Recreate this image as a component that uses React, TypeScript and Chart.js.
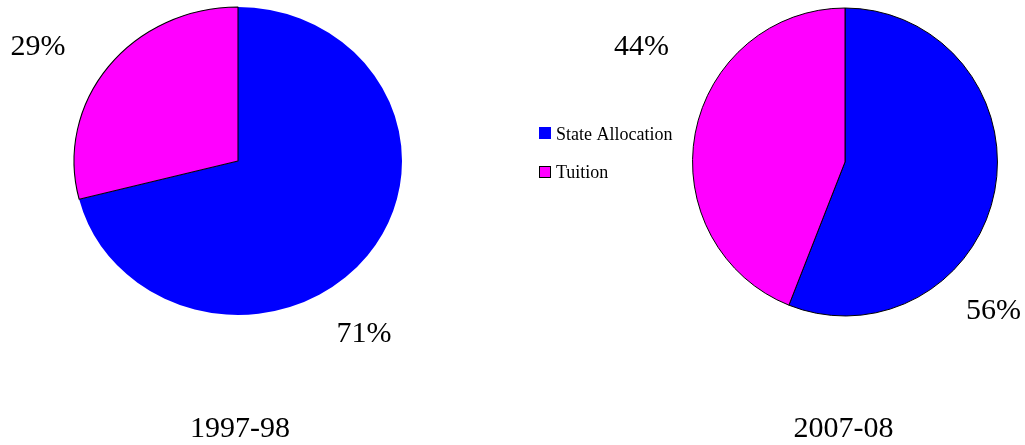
import React, { useEffect, useRef } from 'react';
import { Chart, registerables } from 'chart.js';

Chart.register(...registerables);

// ---- data ----
const categories = ['State Allocation', 'Tuition'];
const yearLabels = ['1997-98', '2007-08'];
const share1997 = [71, 29];
const share2007 = [56, 44];

// ---- style / layout ----
const sliceColors = ['#0000FF', '#FF00FF'];
const W = 1025;
const H = 445;
const FONT = '"Liberation Serif", "Times New Roman", Times, serif';

const ellipsePlugin = {
  id: 'ellipse',
  beforeDatasetsDraw(chart: any, _args: any, opts: any) {
    const arc = chart.getDatasetMeta(0).data[0];
    const ctx = chart.ctx;
    ctx.save();
    ctx.translate(arc.x, arc.y);
    ctx.scale(opts.sx ?? 1, opts.sy ?? 1);
    ctx.translate(-arc.x, -arc.y);
  },
  afterDatasetsDraw(chart: any) {
    chart.ctx.restore();
  },
};

const overlayPlugin = {
  id: 'overlay',
  afterDraw(chart: any, _args: any, opts: any) {
    const ctx = chart.ctx;
    ctx.save();
    ctx.fillStyle = '#000';
    ctx.textBaseline = 'alphabetic';
    ctx.textAlign = 'center';
    ctx.font = `30px ${FONT}`;
    const values: number[] = chart.data.datasets[0].data;
    values.forEach((v, i) => {
      const p = opts.pctPos[i];
      ctx.fillText(`${v}%`, p[0], p[1]);
    });
    ctx.fillText(opts.year, opts.yearPos[0], opts.yearPos[1]);
    if (opts.legend) {
      const lg = opts.legend;
      ctx.textAlign = 'left';
      ctx.font = `18px ${FONT}`;
      (chart.data.labels as string[]).forEach((lab, i) => {
        const by = lg.boxY[i];
        ctx.fillStyle = sliceColors[i];
        ctx.fillRect(lg.boxX, by, lg.box, lg.box);
        if (i === 1) {
          ctx.strokeStyle = '#000';
          ctx.lineWidth = 1;
          ctx.strokeRect(lg.boxX + 0.5, by + 0.5, lg.box - 1, lg.box - 1);
        }
        ctx.fillStyle = '#000';
        ctx.fillText(lab, lg.textX, lg.textY[i]);
      });
    }
    ctx.restore();
  },
};

function makeConfig(values: number[], opt: any): any {
  return {
    type: 'pie',
    data: {
      labels: categories,
      datasets: [
        {
          data: values,
          backgroundColor: sliceColors,
          borderColor: '#000',
          borderWidth: opt.borderWidth,
        },
      ],
    },
    options: {
      responsive: false,
      animation: false,
      events: [],
      radius: 154,
      layout: { padding: opt.padding },
      plugins: {
        legend: { display: false },
        tooltip: { enabled: false },
        ellipse: { sx: opt.sx, sy: 1 },
        overlay: opt.overlay,
      },
    },
    plugins: [ellipsePlugin, overlayPlugin],
  };
}

export default function App() {
  const leftRef = useRef<HTMLCanvasElement>(null);
  const rightRef = useRef<HTMLCanvasElement>(null);

  useEffect(() => {
    document.body.style.margin = '0';
    const left = new Chart(
      leftRef.current!,
      makeConfig(share1997, {
        borderWidth: [0, 1],
        padding: { left: 0, right: W - 476, top: 0, bottom: H - 322 },
        sx: 164 / 154,
        overlay: {
          pctPos: [
            [364, 342],
            [38, 55],
          ],
          year: yearLabels[0],
          yearPos: [240, 437],
        },
      })
    );
    const right = new Chart(
      rightRef.current!,
      makeConfig(share2007, {
        borderWidth: [1, 1],
        padding: { left: 685, right: W - 1005, top: 0, bottom: H - 324 },
        sx: 0.99,
        overlay: {
          pctPos: [
            [993.5, 319],
            [641.5, 55],
          ],
          year: yearLabels[1],
          yearPos: [843.5, 437],
          legend: {
            boxX: 539,
            boxY: [127, 166],
            box: 12,
            textX: 556,
            textY: [140, 178],
          },
        },
      })
    );
    return () => {
      left.destroy();
      right.destroy();
    };
  }, []);

  return (
    <div style={{ position: 'relative', width: W, height: H, background: '#fff' }}>
      <canvas ref={leftRef} width={W} height={H} style={{ position: 'absolute', left: 0, top: 0 }} />
      <canvas ref={rightRef} width={W} height={H} style={{ position: 'absolute', left: 0, top: 0 }} />
    </div>
  );
}
